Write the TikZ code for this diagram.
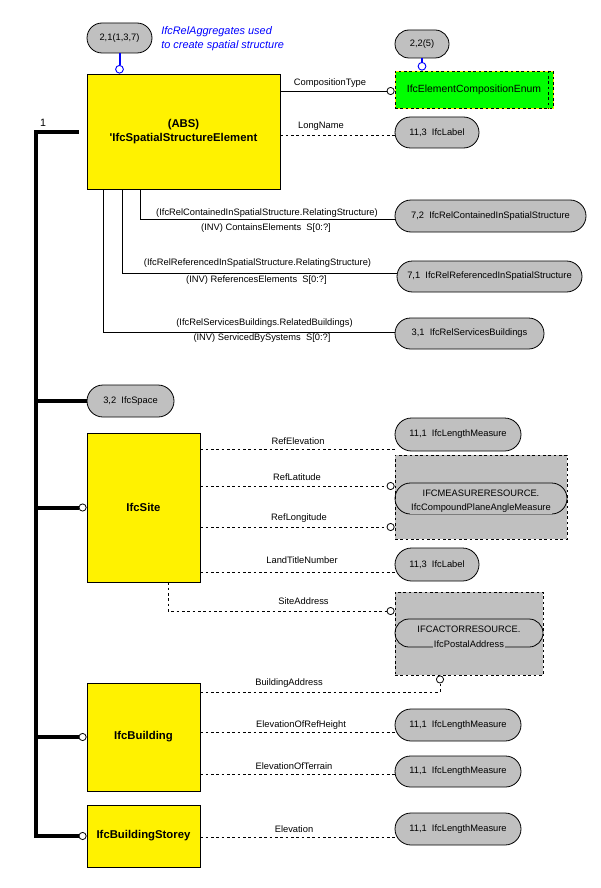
\documentclass[tikz,border=0pt]{standalone}
\usepackage{fontspec}
\setmainfont{Liberation Sans}
\usetikzlibrary{arrows.meta,shapes.misc}
\definecolor{typgray}{RGB}{192,192,192}

\begin{document}
\begin{tikzpicture}[x=0.75pt, y=-0.75pt,
    sz/.style 2 args={minimum width=#1*0.75pt, minimum height=#2*0.75pt},
    entity/.style={draw, fill=yellow, line width=0.6pt, inner sep=0pt, align=center,
        font=\fontsize{8.5}{10.5}\selectfont\bfseries},
    typ/.style={rounded rectangle, draw, fill=typgray, line width=0.6pt, inner sep=0pt,
        font=\fontsize{7}{8.5}\selectfont},
    resbox/.style={draw, fill=typgray, line width=0.6pt, dash pattern=on 2pt off 2pt, inner sep=0pt},
    resin/.style={rounded rectangle, draw, line width=0.6pt, inner sep=0pt},
    restext/.style={fill=typgray, inner sep=0.6pt, font=\fontsize{7}{8.5}\selectfont},
    enumbox/.style={draw=yellow, fill=green, line width=0.6pt, inner sep=0pt,
        font=\fontsize{7.8}{9}\selectfont, postaction={draw=black, dash pattern=on 2pt off 2pt}},
    lbl/.style={inner sep=0pt, font=\fontsize{7}{8.5}\selectfont},
    rel/.style={line width=0.6pt},
    attr/.style={line width=0.6pt, dash pattern=on 2pt off 2pt},
    opt/.style={-{Circle[fill=white, length=6pt, line width=0.6pt]}},
    bus/.style={line width=3pt},
    agg/.style={blue, line width=1.5pt, -{Circle[fill=white, length=6.5pt, line width=0.7pt]}}]

    \fill[white] (0,0) rectangle (600,888);
    \useasboundingbox (0,0) rectangle (600,888);

    \node[typ, sz={65}{30}] (agg1) at (119.5,38) {2,1(1,3,7)};
    \node[anchor=west, align=left, blue, inner sep=0pt,
        font=\fontsize{8.2}{10.5}\selectfont\itshape] (aggnote) at (161,39) {IfcRelAggregates used\\to create spatial structure};
    \node[entity, sz={193}{115}] (sse) at (183.5,131.5) {(ABS)\\\textquotesingle IfcSpatialStructureElement};
    \node[typ, sz={54}{28}] (agg2) at (422,44) {2,2(5)};
    \node[enumbox, sz={158}{37}] (enum) at (474,89.5) {IfcElementCompositionEnum};
    \node[typ, sz={84}{31}] (lbl1) at (437,132.5) {11,3~~IfcLabel};

    \node[typ, sz={191}{32}] (rc) at (490.5,216) {7,2~~IfcRelContainedInSpatialStructure};
    \node[typ, sz={185}{31}] (rr) at (489.5,276.5) {7,1~~IfcRelReferencedInSpatialStructure};
    \node[typ, sz={149}{31}] (rs) at (469.5,333.5) {3,1~~IfcRelServicesBuildings};

    \node[typ, sz={87}{32}] (spc) at (130.5,401) {3,2~~IfcSpace};

    \node[entity, sz={113}{149}] (site) at (143.5,507.5) {IfcSite};
    \node[typ, sz={126}{33}] (lm1) at (458,434.5) {11,1~~IfcLengthMeasure};
    \node[resbox, sz={172}{84}] (mres) at (481,497) {};
    \node[resin, sz={172}{31}] (mresin) at (481,498.5) {};
    \node[restext] (mrestop) at (481,493) {IFCMEASURERESOURCE.};
    \node[restext] (mresbot) at (481,508.5) {IfcCompoundPlaneAngleMeasure};
    \node[typ, sz={84}{33}] (lbl2) at (437,564.5) {11,3~~IfcLabel};
    \node[resbox, sz={148}{83}] (ares) at (469,633.5) {};
    \node[resin, sz={148}{28}] (aresin) at (469,633) {};
    \node[restext] (arestop) at (469,629) {IFCACTORRESOURCE.};
    \node[restext] (aresbot) at (469,644) {IfcPostalAddress};

    \node[entity, sz={113}{108}] (bldg) at (143.5,737) {IfcBuilding};
    \node[typ, sz={126}{32}] (lm2) at (458,725) {11,1~~IfcLengthMeasure};
    \node[typ, sz={126}{31}] (lm3) at (458,771.5) {11,1~~IfcLengthMeasure};

    \node[entity, sz={113}{62}] (stor) at (143.5,836) {IfcBuildingStorey};
    \node[typ, sz={126}{32}] (lm4) at (458,829) {11,1~~IfcLengthMeasure};

    \draw[agg] (agg1.south) -- (sse.north -| agg1.south);
    \draw[agg] (agg2.south) -- (enum.north -| agg2.south);
    \draw[attr] ([xshift=-3.75pt]enum.north east) -- ([xshift=-3.75pt]enum.south east);

    \coordinate (bustop) at (36,132);
    \node[lbl, font=\fontsize{8}{9}\selectfont] (mult) at (43,123) {1};
    \draw[bus, opt] (bustop -| sse.west) ++(-8,0) -- (bustop) |- (stor.west);
    \draw[bus] (bustop |- spc.west) -- (spc.west);
    \draw[bus, opt] (bustop |- site.west) -- (site.west);
    \draw[bus, opt] (bustop |- bldg.west) -- (bldg.west);

    \draw[rel, opt] (sse.east |- 0,91) -- (enum.west |- 0,91);
    \node[lbl] at (330,83) {CompositionType};
    \draw[attr] (sse.east |- 0,135) -- (lbl1.west |- 0,135);
    \node[lbl] at (321,126) {LongName};

    \draw[rel] (sse.south -| 140,0) |- (rc.west |- 0,219);
    \node[lbl] at (267,213.5) {(IfcRelContainedInSpatialStructure.RelatingStructure)};
    \node[lbl] at (266,228.5) {(INV) ContainsElements~~S[0:?]};
    \draw[rel] (sse.south -| 122,0) |- (rr.west |- 0,273);
    \node[lbl] at (257.5,263) {(IfcRelReferencedInSpatialStructure.RelatingStructure)};
    \node[lbl] at (256.5,280) {(INV) ReferencesElements~~S[0:?]};
    \draw[rel] (sse.south -| 103,0) |- (rs.west |- 0,332);
    \node[lbl] at (264.5,323) {(IfcRelServicesBuildings.RelatedBuildings)};
    \node[lbl] at (262,338) {(INV) ServicedBySystems~~S[0:?]};

    \draw[attr] (site.east |- 0,449) -- (lm1.west |- 0,449);
    \node[lbl] at (298,441) {RefElevation};
    \draw[attr, opt] (site.east |- 0,486) -- (mres.west |- 0,486);
    \node[lbl] at (297,477) {RefLatitude};
    \draw[attr, opt] (site.east |- 0,527) -- (mres.west |- 0,527);
    \node[lbl] at (299,518) {RefLongitude};
    \draw[attr] (site.east |- 0,572) -- (lbl2.west |- 0,572);
    \node[lbl] at (302,560) {LandTitleNumber};
    \draw[attr, opt] (site.south -| 168,0) |- (ares.west |- 0,611);
    \node[lbl] at (303.5,601) {SiteAddress};

    \draw[attr, opt] (bldg.east |- 0,692) -| (ares.south -| 440,0);
    \node[lbl] at (289,683) {BuildingAddress};
    \draw[attr] (bldg.east |- 0,732) -- (lm2.west |- 0,732);
    \node[lbl] at (301,725) {ElevationOfRefHeight};
    \draw[attr] (bldg.east |- 0,774) -- (lm3.west |- 0,774);
    \node[lbl] at (294,766) {ElevationOfTerrain};

    \draw[attr] (stor.east |- 0,837) -- (lm4.west |- 0,837);
    \node[lbl] at (294,829) {Elevation};
\end{tikzpicture}
\end{document}
